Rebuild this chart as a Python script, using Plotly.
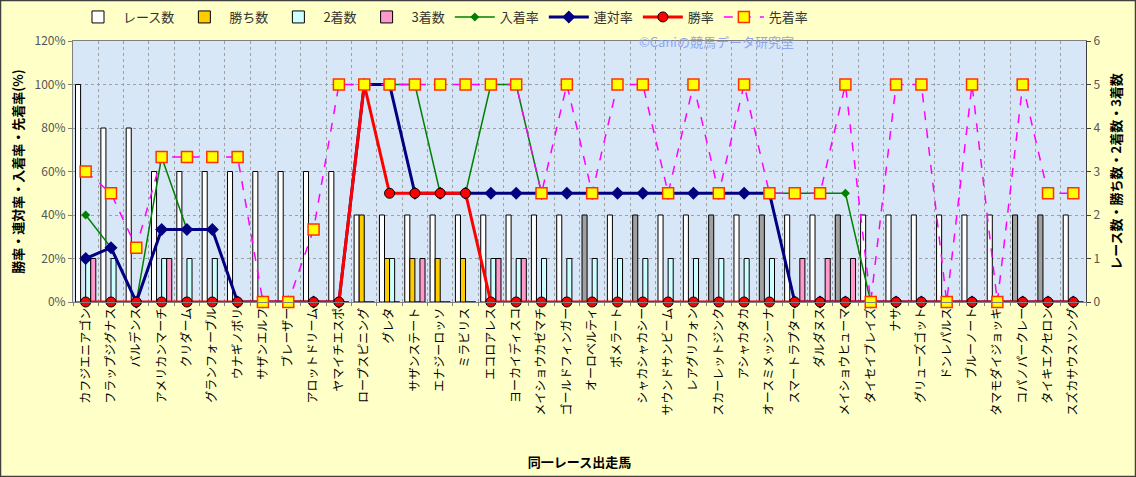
import plotly.graph_objects as go

horses = ["カフジエニアゴン", "フラップジグナス", "バルデンス", "アメリカンマーチ", "クリダーム",
          "グランフォーブル", "ウナギノボリ", "サザンエルフ", "ブレーザー", "アロットドリーム",
          "ヤマイチエスポ", "ロープスピニング", "グレタ", "サザンステート", "エナジーロッソ",
          "ミラビリス", "エコロアレス", "ヨーカイディスコ", "メイショウカゼマチ", "ゴールドフィンガー",
          "オーロベルティ", "ポメラート", "シャカシャカシー", "サウンドサンビーム", "レアグリフォン",
          "スカーレットジンク", "アシャカタカ", "オースミメッシーナ", "スマートラプター", "ダルダヌス",
          "メイショウヒューマ", "タイセイブレイズ", "ナサ", "グリューズゴット", "ドンレパルス",
          "ブルーノート", "タマモダイジョッキ", "コパノパークレー", "タイキエクセロン", "スズカサウスソング"]

races = [5, 4, 4, 3, 3, 3, 3, 3, 3, 3, 3, 2, 2, 2, 2, 2, 2, 2, 2, 2,
         2, 2, 2, 2, 2, 2, 2, 2, 2, 2, 2, 2, 2, 2, 2, 2, 2, 2, 2, 2]
race_gray = [0, 0, 0, 0, 0, 0, 0, 0, 0, 0, 0, 0, 0, 0, 0, 0, 0, 0, 0, 0,
             1, 0, 1, 0, 0, 1, 0, 1, 0, 0, 1, 0, 0, 0, 0, 0, 0, 1, 1, 0]
wins = [0, 0, 0, 0, 0, 0, 0, 0, 0, 0, 0, 2, 1, 1, 1, 1, 0, 0, 0, 0,
        0, 0, 0, 0, 0, 0, 0, 0, 0, 0, 0, 0, 0, 0, 0, 0, 0, 0, 0, 0]
seconds = [1, 1, 0, 1, 1, 1, 0, 0, 0, 0, 0, 0, 1, 0, 0, 0, 1, 1, 1, 1,
           1, 1, 1, 1, 1, 1, 1, 1, 0, 0, 0, 0, 0, 0, 0, 0, 0, 0, 0, 0]
thirds = [1, 0, 0, 1, 0, 0, 0, 0, 0, 0, 0, 0, 0, 1, 0, 0, 1, 1, 0, 0,
          0, 0, 0, 0, 0, 0, 0, 0, 1, 1, 1, 0, 0, 0, 0, 0, 0, 0, 0, 0]

place_rate = [0.4, 0.25, 0, 2/3, 1/3, 1/3, 0, 0, 0, 0, 0, 1, 1, 1, 0.5, 0.5, 1, 1, 0.5, 0.5,
              0.5, 0.5, 0.5, 0.5, 0.5, 0.5, 0.5, 0.5, 0.5, 0.5, 0.5, 0, 0, 0, 0, 0, 0, 0, 0, 0]
quinella_rate = [0.2, 0.25, 0, 1/3, 1/3, 1/3, 0, 0, 0, 0, 0, 1, 1, 0.5, 0.5, 0.5, 0.5, 0.5, 0.5, 0.5,
                 0.5, 0.5, 0.5, 0.5, 0.5, 0.5, 0.5, 0.5, 0, 0, 0, 0, 0, 0, 0, 0, 0, 0, 0, 0]
win_rate = [0, 0, 0, 0, 0, 0, 0, 0, 0, 0, 0, 1, 0.5, 0.5, 0.5, 0.5, 0, 0, 0, 0,
            0, 0, 0, 0, 0, 0, 0, 0, 0, 0, 0, 0, 0, 0, 0, 0, 0, 0, 0, 0]
ahead_rate = [0.6, 0.5, 0.25, 2/3, 2/3, 2/3, 2/3, 0, 0, 1/3, 1, 1, 1, 1, 1, 1, 1, 1, 0.5, 1,
              0.5, 1, 1, 0.5, 1, 0.5, 1, 0.5, 0.5, 0.5, 1, 0, 1, 1, 0, 1, 0, 1, 0.5, 0.5]

FONT = "Noto Sans CJK JP"
fig = go.Figure()

race_colors = ["#a0a0a0" if g else "#ffffff" for g in race_gray]
bar_line = dict(color="#000000", width=1)
# bars on the primary (right-side) axis so the rate lines draw on top
fig.add_trace(go.Bar(x=horses, y=races, name="レース数", yaxis="y",
                     marker=dict(color=race_colors, line=bar_line)))
fig.add_trace(go.Bar(x=horses, y=wins, name="勝ち数", yaxis="y",
                     marker=dict(color="#ffcc00", line=bar_line)))
fig.add_trace(go.Bar(x=horses, y=seconds, name="2着数", yaxis="y",
                     marker=dict(color="#ccffff", line=bar_line)))
fig.add_trace(go.Bar(x=horses, y=thirds, name="3着数", yaxis="y",
                     marker=dict(color="#ff99cc", line=bar_line)))

fig.add_trace(go.Scatter(x=horses, y=place_rate, name="入着率", mode="lines+markers", yaxis="y2",
                         cliponaxis=False,
                         line=dict(color="#008000", width=1.5),
                         marker=dict(symbol="diamond", size=7, color="#008000")))
fig.add_trace(go.Scatter(x=horses, y=quinella_rate, name="連対率", mode="lines+markers", yaxis="y2",
                         cliponaxis=False,
                         line=dict(color="#000080", width=3),
                         marker=dict(symbol="diamond", size=10, color="#000080")))
fig.add_trace(go.Scatter(x=horses, y=win_rate, name="勝率", mode="lines+markers", yaxis="y2",
                         cliponaxis=False,
                         line=dict(color="#ff0000", width=3),
                         marker=dict(symbol="circle", size=10, color="#ff0000",
                                     line=dict(color="#000000", width=1))))
fig.add_trace(go.Scatter(x=horses, y=ahead_rate, name="先着率", mode="lines+markers", yaxis="y2",
                         cliponaxis=False,
                         line=dict(color="#ff00ff", width=1.5, dash="dash"),
                         marker=dict(symbol="square", size=11, color="#ffff00",
                                     line=dict(color="#ff3300", width=1.5))))

fig.update_layout(
    width=1136, height=477,
    margin=dict(l=73, r=50, t=41, b=175, autoexpand=False),
    paper_bgcolor="#ffffc8",
    plot_bgcolor="#d8e7f7",
    font=dict(family=FONT, size=12, color="#000000"),
    barmode="group", bargap=0.2, bargroupgap=0,
    showlegend=True,
    legend=dict(orientation="h", x=0.0, y=1.092, xanchor="left", yanchor="middle",
                bgcolor="rgba(0,0,0,0)", font=dict(size=13, color="#333333"),
                traceorder="normal", itemwidth=40),
    xaxis=dict(type="category", tickangle=-90, tickson="boundaries",
               showgrid=True, gridcolor="#a0a0a0", griddash="dot", gridwidth=1,
               showline=True, linecolor="#808080", mirror=True,
               ticks="outside", ticklen=3, tickcolor="#808080",
               tickfont=dict(size=12, color="#000000"),
               title=dict(text="<b>同一レース出走馬</b>", font=dict(size=13), standoff=43),
               range=[-0.5, 39.5]),
    yaxis=dict(range=[0, 6], dtick=1, side="right",
               showgrid=True, gridcolor="#a0a0a0", griddash="dot", gridwidth=1,
               showline=True, linecolor="#404040", ticks="outside",
               ticklen=4, tickcolor="#404040", zeroline=False,
               tickfont=dict(size=12, color="#555555"),
               title=dict(text="<b>レース数・勝ち数・2着数・3着数</b>", font=dict(size=13), standoff=12)),
    yaxis2=dict(range=[0, 1.2], dtick=0.2, tickformat=".0%", overlaying="y", side="left",
                showgrid=False,
                showline=True, linecolor="#808080", ticks="outside", ticklen=4,
                tickcolor="#808080", zeroline=False,
                tickfont=dict(size=12, color="#555555"),
                title=dict(text="<b>勝率・連対率・入着率・先着率(%)</b>", font=dict(size=13), standoff=8)),
)

fig.add_annotation(text="©Caniの競馬データ研究室", xref="paper", yref="paper",
                   x=0.635, y=1.0, xanchor="center", yanchor="middle", showarrow=False,
                   font=dict(size=13, color="#8ea6ee"))

fig.add_shape(type="rect", xref="paper", yref="paper",
              x0=-72.5/1013, x1=1062.5/1013, y0=-175/261+0.5/261, y1=1+40.5/261,
              line=dict(color="#404040", width=1.5), fillcolor="rgba(0,0,0,0)", layer="above")

fig.write_html("out.html", config={"displayModeBar": False},
               post_script="document.body.style.margin='0';document.body.style.overflow='hidden';")
